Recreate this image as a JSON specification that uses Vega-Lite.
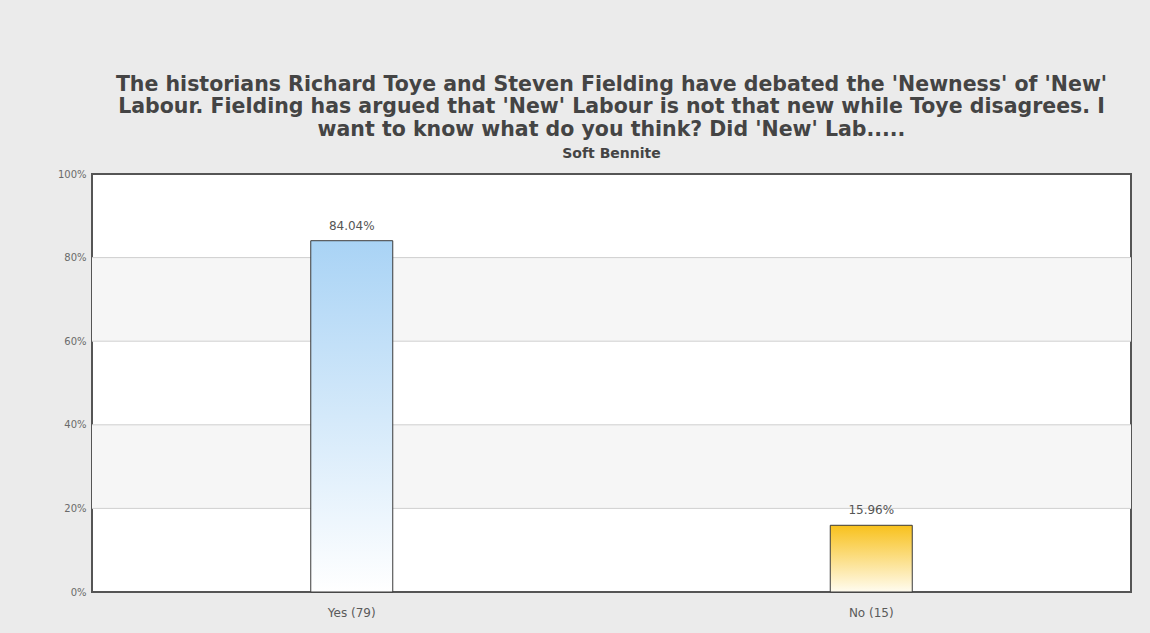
{
  "$schema": "https://vega.github.io/schema/vega-lite/v6.json",
  "width": 1039,
  "height": 418,
  "autosize": {"type": "none"},
  "padding": {"left": 92, "top": 174, "right": 19, "bottom": 41},
  "background": "#ebebeb",
  "title": {
    "text": ["The historians Richard Toye and Steven Fielding have debated the 'Newness' of 'New'", "Labour. Fielding has argued that 'New' Labour is not that new while Toye disagrees. I", "want to know what do you think? Did 'New' Lab....."],
    "subtitle": "Soft Bennite",
    "anchor": "middle",
    "frame": "group",
    "font": "DejaVu Sans",
    "fontSize": 20.5,
    "fontWeight": "bold",
    "color": "#444444",
    "lineHeight": 22.5,
    "subtitleFont": "DejaVu Sans",
    "subtitleFontSize": 14,
    "subtitleFontWeight": "bold",
    "subtitleColor": "#444444",
    "subtitlePadding": 7,
    "offset": 8
  },
  "config": {
    "view": {"fill": "white", "stroke": "#555555", "strokeWidth": 2},
    "font": "DejaVu Sans"
  },
  "layer": [
    {
      "data": {"values": [{"lo": 20, "hi": 40}, {"lo": 60, "hi": 80}]},
      "mark": {"type": "rect", "fill": "#f6f6f6"},
      "encoding": {
        "y": {"field": "lo", "type": "quantitative", "scale": {"domain": [0, 100]}},
        "y2": {"field": "hi"}
      }
    },
    {
      "data": {"values": [{"v": 20}, {"v": 40}, {"v": 60}, {"v": 80}]},
      "mark": {"type": "rule", "stroke": "#cfcfcf", "strokeWidth": 1},
      "encoding": {
        "y": {"field": "v", "type": "quantitative"}
      }
    },
    {
      "data": {"values": [
        {"answer": "Yes (79)", "pct": 84.04, "label": "84.04%"},
        {"answer": "No (15)", "pct": 15.96, "label": "15.96%"}
      ]},
      "layer": [
        {
          "transform": [{"filter": "datum.answer === 'Yes (79)'"}],
          "mark": {
            "type": "bar", "width": 82, "stroke": "#3a3a3a", "strokeWidth": 1,
            "fill": {"gradient": "linear", "x1": 0, "y1": 0, "x2": 0, "y2": 1,
              "stops": [{"offset": 0, "color": "#a9d3f5"}, {"offset": 1, "color": "#ffffff"}]}
          },
          "encoding": {
            "x": {"field": "answer", "type": "nominal", "sort": ["Yes (79)", "No (15)"],
              "scale": {"domain": ["Yes (79)", "No (15)"], "paddingInner": 0, "paddingOuter": 0},
              "axis": {"title": null, "domain": false, "ticks": false, "labelAngle": 0,
                "labelFont": "DejaVu Sans", "labelFontSize": 12, "labelColor": "#5a5a5a", "labelPadding": 15}},
            "y": {"field": "pct", "type": "quantitative", "scale": {"domain": [0, 100]},
              "axis": {"title": null, "grid": false, "domain": false, "ticks": false,
                "values": [0, 20, 40, 60, 80, 100], "labelExpr": "datum.value + '%'",
                "labelFont": "DejaVu Sans", "labelFontSize": 10, "labelColor": "#6a6a6a", "labelPadding": 6}}
          }
        },
        {
          "transform": [{"filter": "datum.answer === 'No (15)'"}],
          "mark": {
            "type": "bar", "width": 82, "stroke": "#3a3a3a", "strokeWidth": 1,
            "fill": {"gradient": "linear", "x1": 0, "y1": 0, "x2": 0, "y2": 1,
              "stops": [{"offset": 0, "color": "#f8c11c"}, {"offset": 1, "color": "#fffcf0"}]}
          },
          "encoding": {
            "x": {"field": "answer", "type": "nominal"},
            "y": {"field": "pct", "type": "quantitative"}
          }
        },
        {
          "mark": {"type": "text", "baseline": "bottom", "dy": -8, "font": "DejaVu Sans", "fontSize": 12, "fill": "#555555"},
          "encoding": {
            "x": {"field": "answer", "type": "nominal"},
            "y": {"field": "pct", "type": "quantitative"},
            "text": {"field": "label"}
          }
        }
      ]
    }
  ]
}
